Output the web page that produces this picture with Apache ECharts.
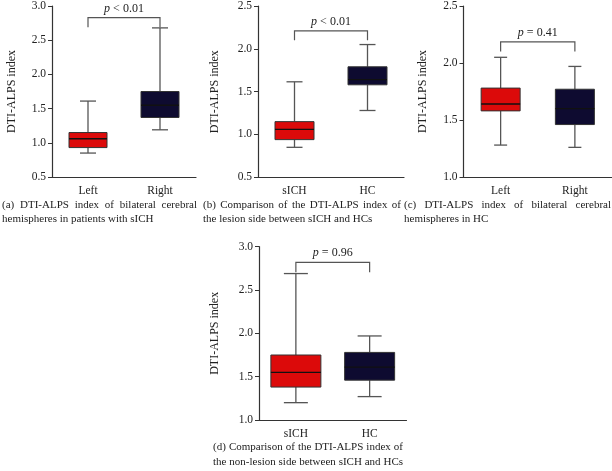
<!DOCTYPE html>
<html>
<head>
<meta charset="utf-8">
<script src="https://cdn.jsdelivr.net/npm/echarts@6/dist/echarts.min.js"></script>
<style>
html,body{margin:0;padding:0;background:#fff;}
#chart{width:612px;height:471px;}
</style>
</head>
<body>
<div id="chart"></div>
<script>
// ---- Data ----
const catsA = ['Left', 'Right'];
const catsB = ['sICH', 'HC'];
const catsC = ['Left', 'Right'];
const catsD = ['sICH', 'HC'];
// [min, Q1, median, Q3, max]
const boxA = [[0.85, 0.93, 1.06, 1.15, 1.61], [1.19, 1.37, 1.55, 1.75, 2.68]];
const boxB = [[0.85, 0.94, 1.06, 1.15, 1.615], [1.28, 1.58, 1.64, 1.79, 2.05]];
const boxC = [[1.28, 1.58, 1.64, 1.78, 2.05], [1.26, 1.46, 1.60, 1.77, 1.97]];
const boxD = [[1.20, 1.38, 1.55, 1.75, 2.69], [1.27, 1.46, 1.61, 1.78, 1.97]];
// [top, end]
const bracketA = [2.83, 2.69];
const bracketB = [2.21, 2.10];
const bracketC = [2.185, 2.10];
const bracketD = [2.82, 2.705];
const pLabels = ['< 0.01', '< 0.01', '= 0.41', '= 0.96'];
const yRanges = [[0.5, 3.0], [0.5, 2.5], [1.0, 2.5], [1.0, 3.0]];
const yTicks = 0.5;
const yName = 'DTI-ALPS index';
const captions = [
  ['(a) DTI-ALPS index of bilateral cerebral', 'hemispheres in patients with sICH'],
  ['(b) Comparison of the DTI-ALPS index of', 'the lesion side between sICH and HCs'],
  ['(c) DTI-ALPS index of bilateral cerebral', 'hemispheres in HC'],
  ['(d) Comparison of the DTI-ALPS index of', 'the non-lesion side between sICH and HCs']
];

// ---- Style ----
const FONT = '"Liberation Serif", "Times New Roman", serif';
const fills = ['#DC0A0A', '#0E0B30'];
const grids = [
  {left: 52, top: 3.7, width: 144, height: 173.3},
  {left: 258, top: 4, width: 146, height: 173.3},
  {left: 463.5, top: 4, width: 148.5, height: 173},
  {left: 259, top: 246.7, width: 147.5, height: 173.3}
];
const nameGaps = [34, 37, 34.5, 38];
const boxSizes = [[38, 16], [39, 16], [39, 13], [50, 24]];
const cats = [catsA, catsB, catsC, catsD];
const boxes = [boxA, boxB, boxC, boxD];
const brackets = [bracketA, bracketB, bracketC, bracketD];

function boxRender(bw, cw) {
  return function (params, api) {
    const i = api.value(0);
    const mn = api.coord([i, api.value(1)]);
    const q1 = api.coord([i, api.value(2)]);
    const md = api.coord([i, api.value(3)]);
    const q3 = api.coord([i, api.value(4)]);
    const mx = api.coord([i, api.value(5)]);
    const cx = md[0];
    const wStyle = {stroke: '#555', lineWidth: 1.3};
    return {
      type: 'group',
      children: [
        {type: 'line', shape: {x1: cx, y1: mx[1], x2: cx, y2: q3[1]}, style: wStyle},
        {type: 'line', shape: {x1: cx, y1: q1[1], x2: cx, y2: mn[1]}, style: wStyle},
        {type: 'line', shape: {x1: cx - cw / 2, y1: mx[1], x2: cx + cw / 2, y2: mx[1]}, style: wStyle},
        {type: 'line', shape: {x1: cx - cw / 2, y1: mn[1], x2: cx + cw / 2, y2: mn[1]}, style: wStyle},
        {type: 'rect', shape: {x: cx - bw / 2, y: q3[1], width: bw, height: q1[1] - q3[1]},
          style: {fill: fills[params.dataIndex], stroke: '#333', lineWidth: 1}},
        {type: 'line', shape: {x1: cx - bw / 2, y1: md[1], x2: cx + bw / 2, y2: md[1]},
          style: {stroke: '#111', lineWidth: 1.4}}
      ]
    };
  };
}

function bracketRender(label) {
  return function (params, api) {
    const top = api.value(0), end = api.value(1);
    const a = api.coord([0, top]);
    const b = api.coord([1, top]);
    const ae = api.coord([0, end]);
    const be = api.coord([1, end]);
    return {
      type: 'group',
      children: [
        {type: 'polyline', shape: {points: [[ae[0], ae[1]], [a[0], a[1]], [b[0], b[1]], [be[0], be[1]]]},
          style: {stroke: '#555', lineWidth: 1.2, fill: null}},
        {type: 'text', x: (a[0] + b[0]) / 2, y: a[1] - 3,
          style: {text: '{i|p} ' + label, align: 'center', verticalAlign: 'bottom',
            font: '12px ' + FONT, fill: '#222',
            rich: {i: {fontStyle: 'italic', fontFamily: FONT, fontSize: 12, fill: '#222'}}}}
      ]
    };
  };
}

const option = {
  backgroundColor: '#fff',
  animation: false,
  grid: grids.map(g => Object.assign({containLabel: false}, g)),
  xAxis: cats.map((c, k) => ({
    type: 'category', gridIndex: k, data: c,
    axisLine: {lineStyle: {color: '#333', width: 1.2}},
    axisTick: {alignWithLabel: true, length: 3, lineStyle: {color: '#333'}},
    axisLabel: {color: '#222', fontFamily: FONT, fontSize: 11.5, margin: 8}
  })),
  yAxis: yRanges.map((r, k) => ({
    type: 'value', gridIndex: k, min: r[0], max: r[1], interval: yTicks,
    name: yName, nameLocation: 'middle', nameGap: nameGaps[k], nameRotate: 90,
    nameTextStyle: {color: '#222', fontFamily: FONT, fontSize: 12},
    splitLine: {show: false},
    axisLine: {show: true, lineStyle: {color: '#333', width: 1.2}},
    axisTick: {show: true, length: 4, lineStyle: {color: '#333'}},
    axisLabel: {color: '#222', fontFamily: FONT, fontSize: 11.5, margin: 6,
      formatter: v => v.toFixed(1)}
  })),
  series: [].concat(
    boxes.map((bx, k) => ({
      type: 'custom', xAxisIndex: k, yAxisIndex: k,
      renderItem: boxRender(boxSizes[k][0], boxSizes[k][1]),
      encode: {x: 0, y: [1, 2, 3, 4, 5]},
      data: bx.map((d, i) => [i].concat(d)),
      clip: false
    })),
    brackets.map((br, k) => ({
      type: 'custom', xAxisIndex: k, yAxisIndex: k,
      renderItem: bracketRender(pLabels[k]),
      encode: {y: [0, 1]},
      data: [br],
      clip: false
    }))
  ),
  graphic: []
};

// Captions (justified first lines)
const capBoxes = [
  {x0: 2, x1: 197, y: 205},
  {x0: 203, x1: 401, y: 205},
  {x0: 404, x1: 611, y: 205},
  {x0: 213, x1: 403, y: 447}
];
const capFontSize = 11;
const ctx = document.createElement('canvas').getContext('2d');
ctx.font = capFontSize + 'px ' + FONT;
function justifyLine(text, x0, x1, y) {
  const words = text.split(' ');
  const widths = words.map(w => ctx.measureText(w).width);
  const total = widths.reduce((s, w) => s + w, 0);
  const gap = (x1 - x0 - total) / (words.length - 1);
  let x = x0;
  return words.map((w, i) => {
    const el = {type: 'text', x: x, y: y,
      style: {text: w, font: capFontSize + 'px ' + FONT, fill: '#222', verticalAlign: 'middle'}};
    x += widths[i] + gap;
    return el;
  });
}
captions.forEach((lines, k) => {
  const c = capBoxes[k];
  option.graphic = option.graphic.concat(justifyLine(lines[0], c.x0, c.x1, c.y));
  if (k === 3) {
    option.graphic = option.graphic.concat(justifyLine(lines[1], c.x0, c.x1, c.y + 15));
  } else {
    option.graphic.push({type: 'text', x: c.x0, y: c.y + 14.5,
      style: {text: lines[1], font: capFontSize + 'px ' + FONT, fill: '#222', verticalAlign: 'middle'}});
  }
});

const chart = echarts.init(document.getElementById('chart'), null, {renderer: 'canvas'});
chart.setOption(option);
</script>
</body>
</html>
